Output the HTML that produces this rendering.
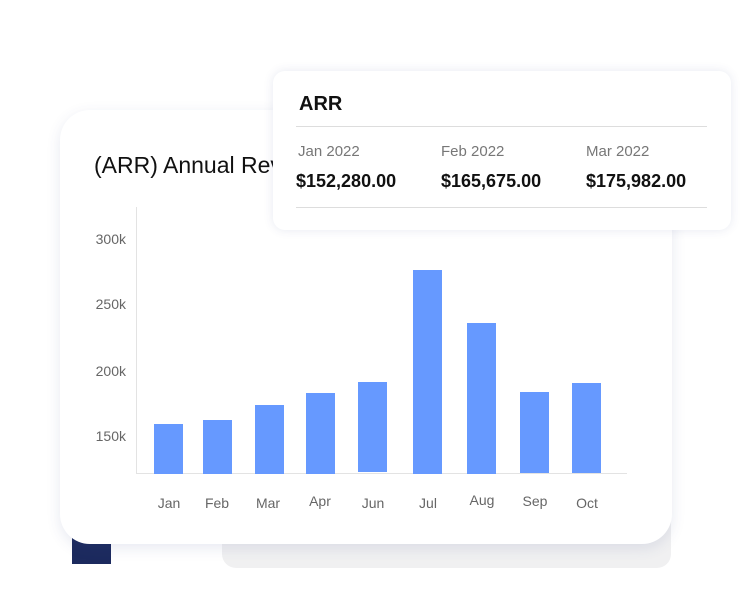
<!DOCTYPE html>
<html><head><style>
body{margin:0;width:754px;height:606px;background:#fff;position:relative;overflow:hidden;font-family:"Liberation Sans",sans-serif}
.a{position:absolute}
.bar{position:absolute;background:#6699ff;width:29px;bottom:132px}
.yl{position:absolute;right:628px;font-size:14px;color:#666}
.xl{position:absolute;top:495px;font-size:14px;color:#666;width:50px;text-align:center}
</style></head><body>
<div class="a" style="left:222px;top:520px;width:449px;height:48px;background:#f0f0f1;border-radius:0 0 14px 14px"></div>
<div class="a" style="left:72px;top:525px;width:39px;height:39px;background:#1c2a5e"></div>
<div class="a" style="left:60px;top:110px;width:612px;height:434px;background:#fff;border-radius:30px;box-shadow:0 4px 14px rgba(60,70,140,0.12)"></div>
<div class="a" style="left:94px;top:152px;font-size:23px;color:#111">(ARR) Annual Revenue</div>
<div class="a" style="left:136px;top:207px;width:1px;height:267px;background:#e3e3e3"></div>
<div class="a" style="left:136px;top:473px;width:491px;height:1px;background:#e3e3e3"></div>
<div class="yl" style="top:231px">300k</div>
<div class="yl" style="top:296px">250k</div>
<div class="yl" style="top:363px">200k</div>
<div class="yl" style="top:428px">150k</div>
<div class="bar" style="left:154px;top:424px"></div>
<div class="bar" style="left:203px;top:420px"></div>
<div class="bar" style="left:255px;top:405px"></div>
<div class="bar" style="left:306px;top:393px"></div>
<div class="bar" style="left:358px;top:382px;bottom:134px"></div>
<div class="bar" style="left:413px;top:270px"></div>
<div class="bar" style="left:467px;top:323px"></div>
<div class="bar" style="left:520px;top:392px;bottom:133px"></div>
<div class="bar" style="left:572px;top:383px;bottom:133px"></div>
<div class="xl" style="left:144px">Jan</div>
<div class="xl" style="left:192px">Feb</div>
<div class="xl" style="left:243px">Mar</div>
<div class="xl" style="left:295px;top:493px">Apr</div>
<div class="xl" style="left:348px">Jun</div>
<div class="xl" style="left:403px">Jul</div>
<div class="xl" style="left:457px;top:492px">Aug</div>
<div class="xl" style="left:510px;top:493px">Sep</div>
<div class="xl" style="left:562px">Oct</div>
<div class="a" style="left:273px;top:71px;width:458px;height:159px;background:#fff;border-radius:12px;box-shadow:0 0 10px rgba(60,70,140,0.12)">
<div class="a" style="left:26px;top:22px;font-size:20px;color:#111;font-weight:bold">ARR</div>
<div class="a" style="left:23px;top:55px;width:411px;height:1px;background:#ddd"></div>
<div class="a" style="left:25px;top:72px;font-size:15px;color:#777">Jan 2022</div>
<div class="a" style="left:168px;top:72px;font-size:15px;color:#777">Feb 2022</div>
<div class="a" style="left:313px;top:72px;font-size:15px;color:#777">Mar 2022</div>
<div class="a" style="left:23px;top:100px;font-size:18px;color:#111;font-weight:bold">$152,280.00</div>
<div class="a" style="left:168px;top:100px;font-size:18px;color:#111;font-weight:bold">$165,675.00</div>
<div class="a" style="left:313px;top:100px;font-size:18px;color:#111;font-weight:bold">$175,982.00</div>
<div class="a" style="left:23px;top:136px;width:411px;height:1px;background:#ddd"></div>
</div>
</body></html>
